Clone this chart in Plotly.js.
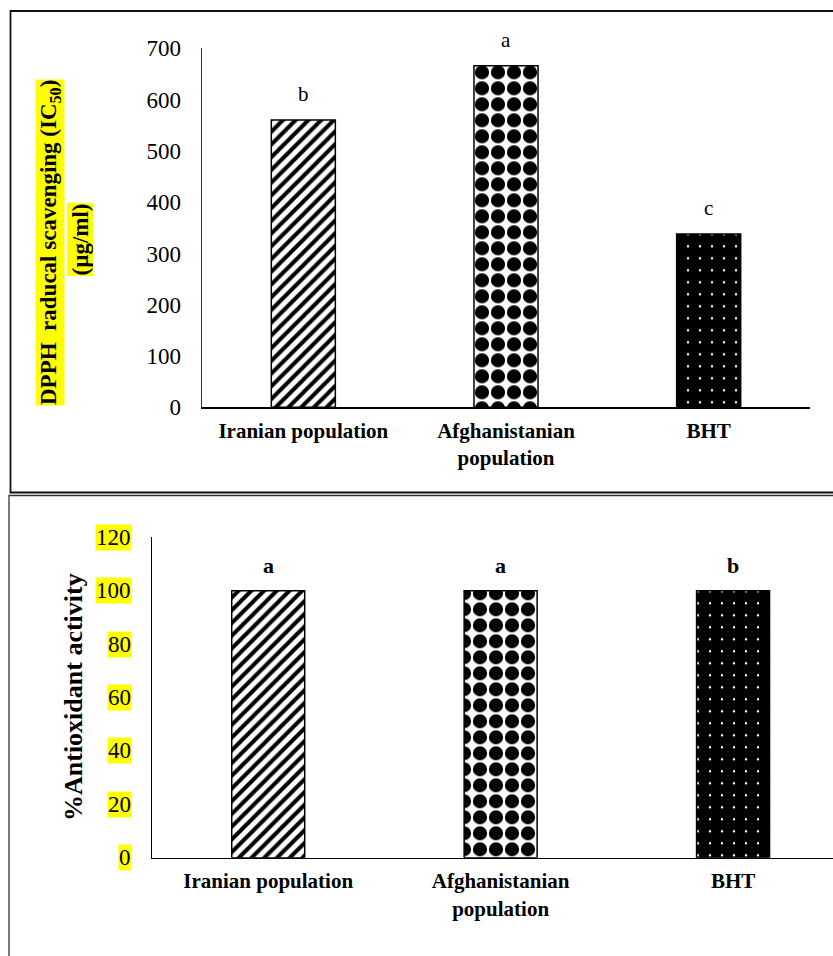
<!DOCTYPE html>
<html><head><meta charset="utf-8">
<script src="https://cdn.plot.ly/plotly-3.0.1.min.js"></script>
<style>html,body{margin:0;padding:0;overflow:hidden;background:#fff}</style>
</head><body><div id="chart" style="width:833px;height:956px"></div>
<script>
// ---- data ----
const categories = ['Iranian population', 'Afghanistanian<br>population', 'BHT'];
const dpphValues = [560, 666, 338];
const dpphLetters = ['b', 'a', 'c'];
const antioxValues = [100, 100, 100];
const antioxLetters = ['a', 'a', 'b'];
const dpphTicks = [0, 100, 200, 300, 400, 500, 600, 700];
const antioxTicks = [0, 20, 40, 60, 80, 100, 120];
const dpphTitle1 = 'DPPH\u00a0 raducal scavenging (IC<sub>50</sub>)';
const dpphTitle2 = '(µg/ml)';
const antioxTitle = '%Antioxidant activity';

// ---- styling ----
const W = 833, H = 956;
const px = x => x / W;
const py = y => 1 - y / H;
const FONT = '"Liberation Serif", serif';
const YEL = '#ffff00';
const pattern = {
  shape: ['/', '.', '.'],
  fgcolor: ['#000', '#000', '#fff'],
  bgcolor: ['#fff', '#fff', '#000'],
  size: [9, 16, 12],
  solidity: [0.45, 0.62, 0.03],
  fillmode: 'replace'
};

const traces = [
  {type: 'bar', x: categories, y: dpphValues, xaxis: 'x', yaxis: 'y', width: 0.316,
   marker: {color: '#fff', pattern: pattern, line: {color: '#000', width: 1.5}},
   hoverinfo: 'skip', showlegend: false},
  {type: 'bar', x: categories, y: antioxValues, xaxis: 'x2', yaxis: 'y2', width: 0.314,
   marker: {color: '#fff', pattern: pattern, line: {color: '#000', width: 1.5}},
   hoverinfo: 'skip', showlegend: false}
];

const annotations = [];
categories.forEach((c, i) => {
  annotations.push({xref: 'x', yref: 'y', x: c, y: dpphValues[i], text: dpphLetters[i],
    xanchor: 'center', yanchor: 'bottom', yshift: 12, showarrow: false, font: {family: FONT, size: 21, color: '#000'}});
  annotations.push({xref: 'x2', yref: 'y2', x: c, y: antioxValues[i], text: '<b>' + antioxLetters[i] + '</b>',
    xanchor: 'center', yanchor: 'bottom', yshift: 11, showarrow: false, font: {family: FONT, size: 22, color: '#000'}});
});
antioxTicks.forEach(t => {
  annotations.push({xref: 'paper', yref: 'y2', x: px(132), y: t, xanchor: 'right', yanchor: 'middle',
    text: String(t), bgcolor: YEL, borderpad: 0, showarrow: false,
    font: {family: FONT, size: 23, color: '#000'}});
});
annotations.push({xref: 'paper', yref: 'paper', x: px(50), y: py(243), xanchor: 'center', yanchor: 'middle',
  text: '<b>' + dpphTitle1 + '</b>',
  textangle: -90, bgcolor: YEL, borderpad: 0, showarrow: false, font: {family: FONT, size: 23, color: '#000'}});
annotations.push({xref: 'paper', yref: 'paper', x: px(80), y: py(239.5), xanchor: 'center', yanchor: 'middle',
  text: '<b>' + dpphTitle2 + '</b>',
  textangle: -90, bgcolor: YEL, borderpad: 0, showarrow: false, font: {family: FONT, size: 23, color: '#000'}});
annotations.push({xref: 'paper', yref: 'paper', x: px(73), y: py(697), xanchor: 'center', yanchor: 'middle',
  text: '<b>' + antioxTitle + '</b>',
  textangle: -90, showarrow: false, font: {family: FONT, size: 26, color: '#000'}});

const xCommon = {showline: true, linecolor: '#000', linewidth: 1.5, ticks: '', showgrid: false, zeroline: false,
  type: 'category', ticklabelstandoff: 4,
  tickfont: {family: FONT, size: 21, color: '#000', weight: 'bold'}, fixedrange: true};
const yCommon = {showline: true, linecolor: '#000', linewidth: 1.5, ticks: '', showgrid: false, zeroline: false,
  fixedrange: true};

const layout = {
  width: W, height: H, margin: {l: 0, r: 0, t: 0, b: 0},
  paper_bgcolor: '#fff', plot_bgcolor: 'rgba(0,0,0,0)',
  font: {family: FONT, color: '#000'},
  bargap: 0,
  xaxis: Object.assign({}, xCommon, {domain: [px(202), px(810)], range: [-0.5, 2.5], anchor: 'y'}),
  yaxis: Object.assign({}, yCommon, {domain: [py(407.3), py(48.3)], range: [0, 700], anchor: 'x',
    tickvals: dpphTicks, ticklabelstandoff: 15, tickfont: {family: FONT, size: 23, color: '#000'}, linecolor: '#333'}),
  xaxis2: Object.assign({}, xCommon, {domain: [px(152), 1], range: [-0.5, 2.43], anchor: 'y2'}),
  yaxis2: Object.assign({}, yCommon, {domain: [py(857.7), py(537.3)], range: [0, 120], anchor: 'x2',
    tickvals: antioxTicks, showticklabels: false}),
  annotations: annotations,
  shapes: [
    {type: 'rect', xref: 'paper', yref: 'paper', x0: px(10.5), x1: 1.05, y0: py(11), y1: py(492.5),
     line: {color: '#111', width: 1.8}, fillcolor: 'rgba(0,0,0,0)', layer: 'above'},
    {type: 'rect', xref: 'paper', yref: 'paper', x0: px(9), x1: 1.05, y0: py(495.5), y1: -0.05,
     line: {color: '#333', width: 1.3}, fillcolor: 'rgba(0,0,0,0)', layer: 'above'}
  ]
};

Plotly.newPlot('chart', traces, layout, {staticPlot: true, displayModeBar: false});
</script>
</body></html>
